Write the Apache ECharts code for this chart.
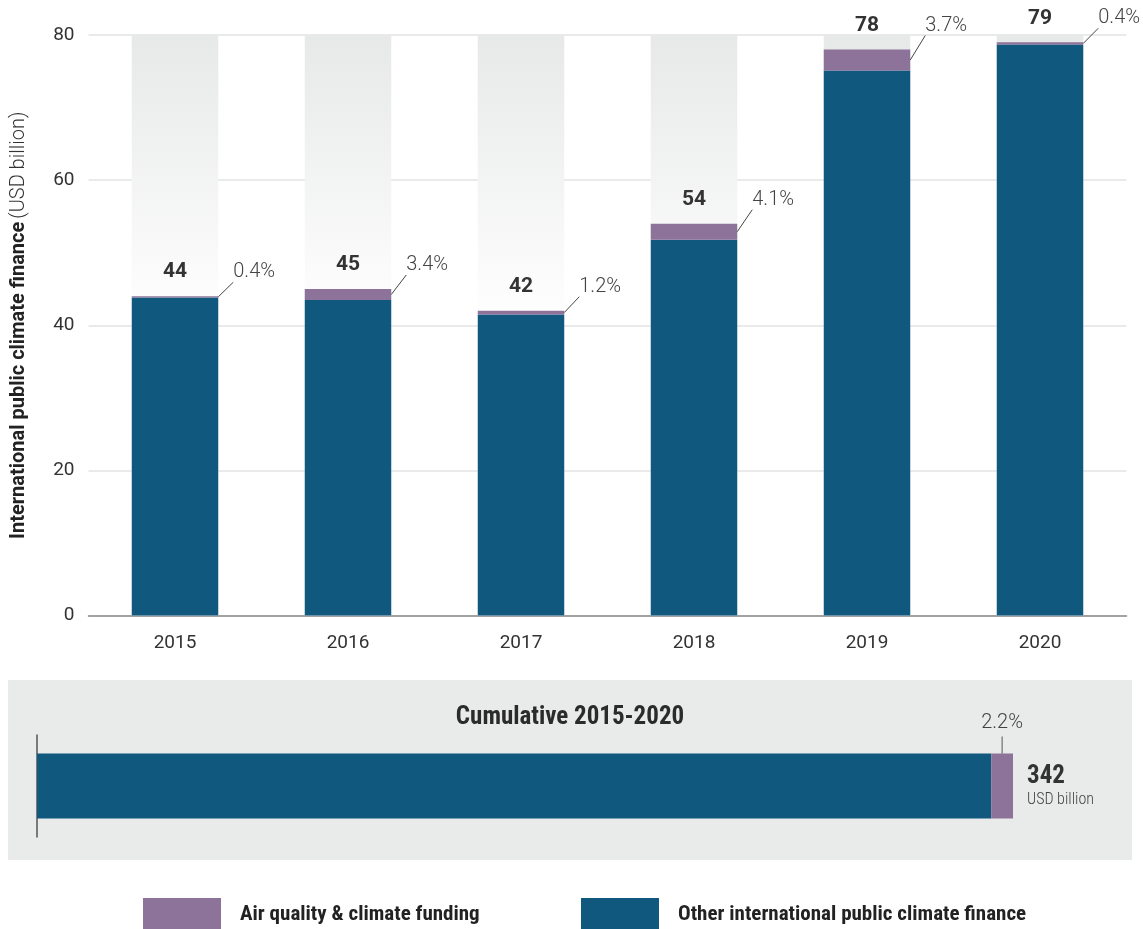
<!DOCTYPE html>
<html>
<head>
<meta charset="utf-8">
<title>International public climate finance</title>
<script src="https://cdn.jsdelivr.net/npm/echarts@6/dist/echarts.min.js"></script>
<style>
  html, body { margin: 0; padding: 0; background: #ffffff; }
  #chart { width: 1143px; height: 929px; }
</style>
</head>
<body>
<div id="chart"></div>
<script>
// Yearly international public climate finance (USD billion)
const years = ['2015', '2016', '2017', '2018', '2019', '2020'];
const totals = [44, 45, 42, 54, 78, 79];
// Share of each year's total going to air quality & climate funding (%)
const airShare = [0.4, 3.4, 1.2, 4.1, 3.7, 0.4];

const NAME_AIR = 'Air quality & climate funding';
const NAME_OTHER = 'Other international public climate finance';

const BLUE = '#11587f';
const PURPLE = '#8d7399';
const TEXT = '#333333';
const NARROW = "'Liberation Sans Narrow', 'Roboto Condensed', Roboto, sans-serif";

// Split each total into its two components
const air = totals.map((t, i) => t * airShare[i] / 100);
const other = totals.map((t, i) => t - air[i]);

// Cumulative 2015-2020
const cumTotal = totals.reduce((a, b) => a + b, 0);
const cumAir = air.reduce((a, b) => a + b, 0);
const cumOther = cumTotal - cumAir;
const cumShare = cumAir / cumTotal * 100;

const chart = echarts.init(document.getElementById('chart'), null, { renderer: 'canvas' });

const legendText = { fontFamily: NARROW, fontWeight: 'bold', fontSize: 21, color: '#222', padding: [0, 0, 0, 14] };

const option = {
  backgroundColor: '#ffffff',
  animation: false,
  textStyle: { fontFamily: 'Roboto, sans-serif' },
  graphic: [
    {
      type: 'rect', z: -10, silent: true,
      shape: { x: 8, y: 680, width: 1124, height: 180 },
      style: { fill: '#e9eaea' }
    },
    {
      type: 'text', z: 10, silent: true,
      x: 570, y: 718,
      style: {
        text: 'Cumulative 2015-2020', align: 'center', verticalAlign: 'middle',
        fill: '#2b2b2b', fontFamily: NARROW, fontWeight: 'bold', fontSize: 25
      }
    }
  ],
  legend: [
    {
      data: [NAME_AIR], left: 143, top: 898, padding: 0,
      icon: 'rect', itemWidth: 78, itemHeight: 34,
      selectedMode: false, textStyle: legendText
    },
    {
      data: [NAME_OTHER], left: 581, top: 898, padding: 0,
      icon: 'rect', itemWidth: 78, itemHeight: 34,
      selectedMode: false, textStyle: legendText
    }
  ],
  grid: [
    { left: 88.5, right: 16.5, top: 35, bottom: 313.5, containLabel: false, outerBoundsMode: 'none' },
    { left: 37, width: 976, top: 735, height: 102, containLabel: false, outerBoundsMode: 'none' }
  ],
  xAxis: [
    {
      type: 'category', gridIndex: 0, data: years,
      axisTick: { show: false },
      axisLine: { lineStyle: { color: '#8a8a8a', width: 1.5 } },
      axisLabel: { color: TEXT, fontSize: 19, margin: 18 }
    },
    {
      type: 'value', gridIndex: 1, min: 0, max: cumTotal,
      show: false
    }
  ],
  yAxis: [
    {
      type: 'value', gridIndex: 0, min: 0, max: 80, interval: 20,
      axisLine: { show: false },
      axisTick: { show: false },
      splitLine: { lineStyle: { color: '#e3e3e3', width: 1.5 } },
      axisLabel: { color: TEXT, fontSize: 19, margin: 14 },
      name: '{b|International public climate finance} {l|(USD billion)}',
      nameLocation: 'middle', nameRotate: 90, nameGap: 60,
      nameTextStyle: {
        rich: {
          b: { fontSize: 20, fontWeight: 'bold', color: '#222' },
          l: { fontSize: 20, fontWeight: 300, color: '#333' }
        }
      }
    },
    {
      type: 'category', gridIndex: 1, data: ['Cumulative 2015-2020'],
      axisTick: { show: false },
      axisLabel: { show: false },
      axisLine: { show: true, lineStyle: { color: '#555', width: 1.5 } }
    }
  ],
  series: [
    {
      // Shaded column behind each year, fading downwards
      name: 'column', type: 'bar', xAxisIndex: 0, yAxisIndex: 0,
      data: years.map(() => 80), barWidth: '50%', silent: true,
      itemStyle: {
        color: {
          type: 'linear', x: 0, y: 0, x2: 0, y2: 1,
          colorStops: [
            { offset: 0, color: '#e7e8e8' },
            { offset: 0.5, color: '#ffffff' },
            { offset: 1, color: '#ffffff' }
          ]
        }
      }
    },
    {
      name: NAME_OTHER, type: 'bar', stack: 'year', xAxisIndex: 0, yAxisIndex: 0,
      data: other, barWidth: '50%', itemStyle: { color: BLUE }
    },
    {
      name: NAME_AIR, type: 'bar', stack: 'year', xAxisIndex: 0, yAxisIndex: 0,
      data: air, barWidth: '50%', barGap: '-100%', itemStyle: { color: PURPLE }
    },
    {
      // Total and share labels for each year
      name: 'yearLabels', type: 'custom', xAxisIndex: 0, yAxisIndex: 0,
      silent: true, clip: false, z: 5,
      data: years.map((y, i) => [i, totals[i], air[i], airShare[i]]),
      encode: { x: 0, y: 1 },
      renderItem: function (params, api) {
        const i = api.value(0);
        const total = api.value(1);
        const a = api.value(2);
        const share = api.value(3);
        const top = api.coord([i, total]);
        const mid = api.coord([i, total - a / 2]);
        const hw = api.size([1, 0])[0] * 0.25;
        const ly = top[1] - 24;
        const rx = top[0] + hw;
        return {
          type: 'group',
          children: [
            {
              type: 'text',
              style: {
                x: top[0], y: ly, text: String(total), align: 'center', verticalAlign: 'middle',
                fill: TEXT, fontSize: 21, fontWeight: 'bold', fontFamily: 'Roboto, sans-serif'
              }
            },
            {
              type: 'line',
              shape: { x1: rx, y1: mid[1], x2: rx + 15, y2: ly + 10 },
              style: { stroke: '#444', lineWidth: 1 }
            },
            {
              type: 'text',
              style: {
                x: rx + 15, y: ly, text: share.toFixed(1) + '%', align: 'left', verticalAlign: 'middle',
                fill: '#444', fontSize: 20, fontWeight: 300, fontFamily: 'Roboto, sans-serif'
              }
            }
          ]
        };
      }
    },
    {
      name: NAME_OTHER, type: 'bar', stack: 'cum', xAxisIndex: 1, yAxisIndex: 1,
      data: [cumOther], barWidth: 65, itemStyle: { color: BLUE }
    },
    {
      name: NAME_AIR, type: 'bar', stack: 'cum', xAxisIndex: 1, yAxisIndex: 1,
      data: [cumAir], barWidth: 65, itemStyle: { color: PURPLE }
    },
    {
      // Cumulative total and share labels
      name: 'cumLabels', type: 'custom', xAxisIndex: 1, yAxisIndex: 1,
      silent: true, clip: false, z: 5,
      data: [[cumTotal, 0, cumAir, cumShare]],
      encode: { x: 0, y: 1 },
      renderItem: function (params, api) {
        const total = api.value(0);
        const a = api.value(2);
        const share = api.value(3);
        const end = api.coord([total, 0]);
        const mid = api.coord([total - a / 2, 0]);
        const barTop = end[1] - 32.5;
        return {
          type: 'group',
          children: [
            {
              type: 'line',
              shape: { x1: mid[0], y1: barTop - 17, x2: mid[0], y2: barTop },
              style: { stroke: '#555', lineWidth: 1 }
            },
            {
              type: 'text',
              style: {
                x: mid[0], y: barTop - 31, text: share.toFixed(1) + '%', align: 'center', verticalAlign: 'middle',
                fill: '#444', fontSize: 20, fontWeight: 300, fontFamily: 'Roboto, sans-serif'
              }
            },
            {
              type: 'text',
              style: {
                x: end[0] + 14, y: end[1] - 9, text: String(Math.round(total)), align: 'left', verticalAlign: 'middle',
                fill: TEXT, fontSize: 25, fontWeight: 'bold', fontFamily: NARROW
              }
            },
            {
              type: 'text',
              style: {
                x: end[0] + 14, y: end[1] + 14, text: 'USD billion', align: 'left', verticalAlign: 'middle',
                fill: '#444', fontSize: 16, fontWeight: 300, fontFamily: NARROW
              }
            }
          ]
        };
      }
    }
  ]
};

chart.setOption(option);
</script>
</body>
</html>
